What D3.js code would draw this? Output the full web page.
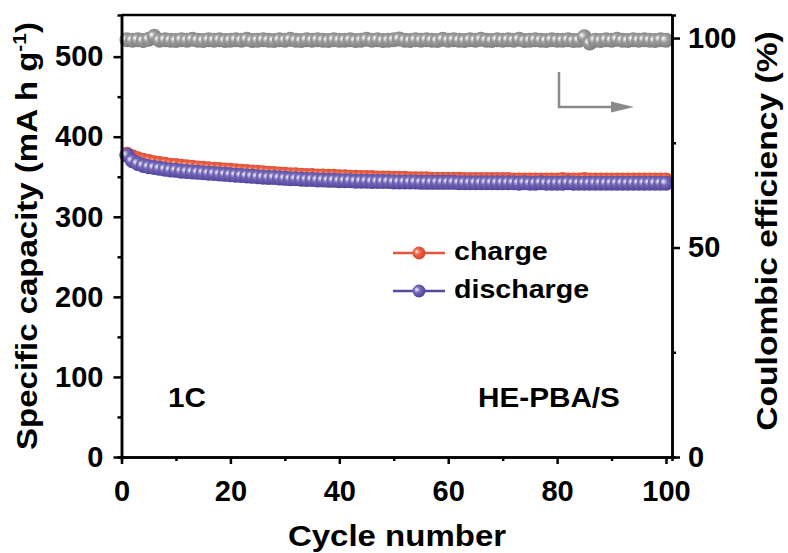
<!DOCTYPE html>
<html><head><meta charset="utf-8">
<script src="https://cdn.jsdelivr.net/npm/d3@7"></script>
<style>body{margin:0;background:#fff}svg{display:block}text{font-family:"Liberation Sans",Arial,sans-serif;font-weight:bold}</style>
</head><body>
<svg id="c" width="788" height="553"></svg>
<script>
const cycles = [1,2,3,4,5,6,7,8,9,10,11,12,13,14,15,16,17,18,19,20,21,22,23,24,25,26,27,28,29,30,31,32,33,34,35,36,37,38,39,40,41,42,43,44,45,46,47,48,49,50,51,52,53,54,55,56,57,58,59,60,61,62,63,64,65,66,67,68,69,70,71,72,73,74,75,76,77,78,79,80,81,82,83,84,85,86,87,88,89,90,91,92,93,94,95,96,97,98,99,100];
const charge = [378,375,372.5,370.5,369,367.5,366.5,365.5,364.5,364,
363,362.5,362,361,360.5,360,359.5,359,358.5,358,
357.5,357,356.5,356,355.5,355,354.5,354,353.5,353,
352.5,352.5,352,351.5,351.5,351,351,350.5,350.5,350,
350,349.5,349.5,349,349,349,348.5,348.5,348.5,348,
348,348,347.5,347.5,347.5,347.5,347,347,347,347,
347,347,346.5,346.5,346.5,346.5,346.5,346.5,346.5,346.5,
346.5,346,346,346,346,346,346,346,346,346,
346.5,346,346,346,346.5,346,346,346,346,346,
346,346,346,346,346,346,346,346,346,346];
const discharge = [377,370,366.5,364,362.5,361.5,360.5,359.5,358.5,358,
357,356.5,356,355.5,355,354.5,354,353.5,353,352.5,
352,351.5,351,350.5,350,349.5,349,349,348.5,348,
347.5,347.5,347,346.5,346.5,346,346,345.5,345.5,345,
345,345,344.5,344.5,344.5,344,344,344,344,343.5,
343.5,343.5,343.5,343.5,343,343,343,343,343,343,
343,342.5,342.5,342.5,342.5,342.5,342.5,342.5,342.5,342.5,
342.5,342.5,342,342.5,342,342,342.5,342,342,342,
342,342.5,342,342,342,342,342,342,342,342,
342,342,342,342,342,342,342,342,342,342];
const efficiency = [99.6,99.5,99.6,99.4,99.7,100.4,99.5,99.6,99.5,99.4,
99.6,99.5,99.7,99.5,99.4,99.6,99.5,99.6,99.4,99.5,
99.6,99.5,99.7,99.4,99.5,99.6,99.5,99.4,99.6,99.5,
99.7,99.5,99.4,99.6,99.5,99.6,99.5,99.4,99.6,99.5,
99.5,99.6,99.4,99.5,99.7,99.5,99.6,99.4,99.5,99.6,
99.8,99.5,99.4,99.6,99.5,99.6,99.5,99.4,99.7,99.5,
99.6,99.5,99.4,99.6,99.5,99.7,99.5,99.4,99.6,99.5,
99.6,99.5,99.7,99.4,99.5,99.6,99.5,99.4,99.6,99.5,
99.5,99.6,99.4,99.5,100.3,98.8,99.5,99.4,99.6,99.5,
99.7,99.5,99.4,99.6,99.5,99.6,99.5,99.4,99.6,99.5];
const xTicks = [0,20,40,60,80,100];
const xMinor = [10,30,50,70,90];
const yLTicks = [0,100,200,300,400,500];
const yLMinor = [50,150,250,350,450];
const yRTicks = [0,50,100];
const yRMinor = [25,75];

const svg = d3.select("#c");
const L=121.5, R=672, T=15, B=457;
const x = d3.scaleLinear().domain([0,101.1]).range([L,R]);
const yL = d3.scaleLinear().domain([0,552]).range([B,T]);
const yR = d3.scaleLinear().domain([0,105.5]).range([B,T]);

const defs = svg.append("defs");
function grad(id, c0, c1, c2){
  const g = defs.append("radialGradient").attr("id",id).attr("cx","45%").attr("cy","45%").attr("r","60%").attr("fx","30%").attr("fy","38%");
  g.append("stop").attr("offset","0%").attr("stop-color",c0);
  g.append("stop").attr("offset","40%").attr("stop-color",c1);
  g.append("stop").attr("offset","100%").attr("stop-color",c2);
}
grad("gGray","#ffffff","#9d9d9d","#7a7a7a");
grad("gRed","#fde0d6","#ec6244","#d4402a");
grad("gBlue","#f4f2fb","#7469b8","#4a3c96");

const rr = 7.5;
function series(vals, y, color, gid){
  const line = d3.line().x((d,i)=>x(cycles[i])).y(d=>y(d));
  svg.append("path").datum(vals).attr("d",line).attr("fill","none").attr("stroke",color).attr("stroke-width",2);
  svg.append("g").selectAll("circle").data(vals).join("circle")
    .attr("cx",(d,i)=>x(cycles[i])).attr("cy",d=>y(d)).attr("r",rr)
    .attr("fill",`url(#${gid})`);
}
series(efficiency, yR, "#8a8a8a", "gGray");
series(charge, yL, "#e8563c", "gRed");
series(discharge, yL, "#564aa0", "gBlue");

// frame
svg.append("line").attr("x1",L).attr("x2",R).attr("y1",T).attr("y2",T).attr("stroke","#000").attr("stroke-width",2.5);

function styleAxis(g){
  g.select(".domain").attr("stroke","#000").attr("stroke-width",2.5);
  g.selectAll(".tick line").attr("stroke","#000").attr("stroke-width",2.5);
  g.selectAll(".tick text").attr("fill","#000").style("font-size","29px").style("font-family","'Liberation Sans',Arial,sans-serif").style("font-weight","bold");
}
// minor ticks
svg.append("g").attr("transform",`translate(0,${B})`).call(d3.axisBottom(x).tickValues(xMinor).tickSize(4).tickFormat("")).call(styleAxis);
svg.append("g").attr("transform",`translate(${L},0)`).call(d3.axisLeft(yL).tickValues(yLMinor).tickSize(4).tickFormat("")).call(styleAxis);
svg.append("g").attr("transform",`translate(${R},0)`).call(d3.axisRight(yR).tickValues(yRMinor).tickSize(4).tickFormat("")).call(styleAxis);
// major
svg.append("g").attr("transform",`translate(0,${B})`).call(d3.axisBottom(x).tickValues(xTicks).tickSize(7).tickPadding(16).tickSizeOuter(0)).call(styleAxis);
svg.append("g").attr("transform",`translate(${L},0)`).call(d3.axisLeft(yL).tickValues(yLTicks).tickSize(8).tickPadding(10).tickSizeOuter(0)).call(styleAxis);
svg.append("g").attr("transform",`translate(${R},0)`).call(d3.axisRight(yR).tickValues(yRTicks).tickSize(8).tickPadding(8).tickSizeOuter(0)).call(styleAxis);

// titles
svg.append("text").attr("transform","translate(397,546) scale(1.1,1)").attr("text-anchor","middle").style("font-size","30px").text("Cycle number");
const lt = svg.append("text").attr("transform","translate(37,236) rotate(-90) scale(1.1,1)").attr("text-anchor","middle").style("font-size","30px");
lt.append("tspan").text("Specific capacity (mA h g");
lt.append("tspan").attr("dy",-11).style("font-size","19px").text("-1");
lt.append("tspan").attr("dy",11).text(")");
svg.append("text").attr("transform","translate(777,231) rotate(-90) scale(1.12,1)").attr("text-anchor","middle").style("font-size","30px").text("Coulombic efficiency (%)");

// annotations
svg.append("text").attr("transform","translate(168,407) scale(1.1,1)").style("font-size","27px").text("1C");
svg.append("text").attr("transform","translate(478,407) scale(1.1,1)").style("font-size","27px").text("HE-PBA/S");

// legend
const legend = [{name:"charge",color:"#e8563c",g:"gRed",y:253},{name:"discharge",color:"#564aa0",g:"gBlue",y:291}];
legend.forEach(d=>{
  svg.append("line").attr("x1",393).attr("x2",445).attr("y1",d.y).attr("y2",d.y).attr("stroke",d.color).attr("stroke-width",2.5);
  svg.append("circle").attr("cx",419).attr("cy",d.y).attr("r",6.5).attr("fill",`url(#${d.g})`);
  svg.append("text").attr("transform",`translate(454,${d.y+7}) scale(1.1,1)`).style("font-size","26px").text(d.name);
});

// arrow
svg.append("path").attr("d","M559,72 L559,107 L613,107").attr("fill","none").attr("stroke","#8a8a8a").attr("stroke-width",2.5);
svg.append("path").attr("d","M611,101.5 L634,107 L611,112.5 Z").attr("fill","#8a8a8a");
</script>
</body></html>
